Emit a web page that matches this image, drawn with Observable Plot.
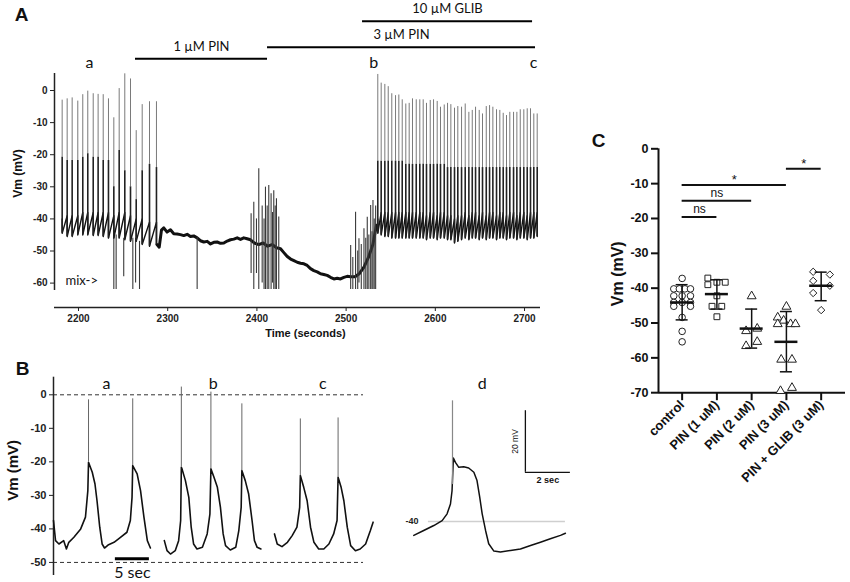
<!DOCTYPE html>
<html><head><meta charset="utf-8">
<script src="https://cdn.jsdelivr.net/npm/d3@7"></script>
<script src="https://cdn.jsdelivr.net/npm/@observablehq/plot@0.6"></script>
<style>
body{margin:0;background:#fff;}
#fig{position:relative;width:850px;height:582px;overflow:hidden;background:#fff;}
</style></head>
<body><div id="fig"></div>
<script>
// ---------------- Panel A data ----------------
const aYTicks = [0, -10, -20, -30, -40, -50, -60];
const aXTicks = [2200, 2300, 2400, 2500, 2600, 2700];
// spikes: time (s), peak, plateau top, foot (mV)
const aSpikeT = [2181.7,2187.3,2192.9,2199.2,2204.8,2210.4,2216.5,2222.0,2227.7,2233.6,2239.6,2245.6,2251.9,2258.3,2264.7,2271.4,2279.6,2287.4,
  2535.5,2539.3,2543.4,2547.2,2551.2,2555.4,2559.1,2562.9,2566.9,2570.7,2574.4,2578.6,2582.6,2586.4,2590.1,2594.3,2598.0,2602.1,2605.8,2610.0,
  2613.7,2617.4,2621.5,2625.2,2629.4,2633.5,2637.6,2641.4,2645.1,2649.2,2652.9,2657.1,2660.8,2664.5,2668.6,2672.3,2676.1,2679.8,2683.5,2687.7,
  2691.4,2695.2,2699.2,2703.0,2706.7,2710.4,2714.2];
const aSpikePeak = [-3.0,-2.6,-2.3,-3.3,-1.3,-0.2,-1.0,-1.2,-1.3,-2.6,-8.5,0.6,5.2,3.6,-12.5,-4.4,-3.5,-3.5,
  5.0,2.3,1.9,1.2,-1.0,-1.6,-1.4,-2.9,-4.2,-4.0,-2.6,-2.9,-2.9,-2.9,-4.0,-3.1,-2.9,-3.4,-5.2,-4.5,
  -4.0,-4.4,-5.5,-5.0,-5.2,-4.2,-6.8,-6.2,-5.2,-6.2,-7.3,-5.0,-4.7,-5.2,-6.0,-6.2,-7.1,-7.8,-6.8,-6.8,
  -6.8,-6.0,-6.0,-5.7,-5.7,-7.3,-7.3];
const aSpikePlateau = [-20.8,-21.8,-21.8,-21.8,-20.8,-19.7,-20.8,-20.8,-21.8,-21.8,-30.0,-18.7,-25.0,-30.0,-34.0,-25.0,-23.0,-24.0,
  -22,-22,-22,-22,-22,-22,-22,-22,-23,-23,-23,-23,-23,-23,-23,-23,-23,-23,-23,-23,
  -24,-24,-24,-24,-24,-24,-24,-24,-24,-24,-24,-24,-24,-24,-24,-24,-24,-24,-24,-24,
  -24,-24,-24,-24,-24,-24,-24];
const aSpikeFoot = [-44.5,-45.5,-45.5,-45.0,-45.0,-45.0,-45.2,-45.2,-45.5,-46.0,-46.0,-46.0,-46.5,-47.0,-47.0,-48.0,-48.5,-48.0,
  -44.5,-45,-45.5,-45.5,-46,-46,-46,-46,-46,-46,-46,-46,-46,-46,-46.5,-46,-46,-46.5,-46,-46,
  -46.5,-46.5,-47.5,-47,-46.5,-46,-46.5,-46,-46,-46.5,-46,-46.5,-46,-46,-46.5,-46,-46,-46.5,-46,-46,
  -46.5,-46,-46,-46.5,-46,-46,-45.5];
// pre-spike ramp level just before each spike (mV)
const aSpikeRamp = [-40,-39,-39,-39,-38,-38,-38,-38,-38,-38,-39,-38,-38,-39,-40,-40,-41,-41,
  -40,-38,-38,-38,-38,-38,-38,-38,-38,-38,-38,-38,-38,-38,-39,-38,-38,-39,-38,-38,
  -39,-39,-40,-39,-39,-38,-39,-38,-38,-39,-38,-39,-38,-38,-39,-38,-38,-39,-38,-38,
  -39,-38,-38,-39,-38,-38,-38];
// bursts / deflections: time, low, high (mV)
const aBurstT  = [2239.6,2242.2,2250.7,2260.9,2264.0,2268.4,2333.0,2393.5,2396.5,2399.5,2402.1,2405.9,2408.0,2409.6,2411.5,2413.3,2415.9,2417.5,2418.9,2420.5,2421.9,2424.5,
  2505.1,2507.5,2510.6,2513.0,2514.4,2517.0,2520.0,2522.0,2523.7,2525.5,2527.5,2529.0,2530.1,2531.5,2533.1];
const aBurstLo = [-62,-62,-58,-62,-60,-62,-62,-57,-62,-57,-62,-60,-62,-62,-62,-62,-62,-60,-62,-62,-62,-62,
  -62,-62,-62,-62,-60,-62,-62,-62,-62,-62,-62,-62,-62,-62,-62];
const aBurstHi = [-45,-45,-46,-46,-46,-47,-45.9,-38.4,-34.8,-40,-24.4,-36,-40,-30.1,-36,-29.6,-32.2,-38,-31.2,-36,-33.7,-39.4,
  -48.3,-52,-37.9,-50,-46.2,-48,-43.1,-46,-39.5,-45,-35.8,-44,-34.3,-40,-36];
// slow (non-spiking) trace
const aTraceT = [2288.0,2290.5,2293.0,2295.6,2299.3,2303.1,2306.8,2310.6,2314.3,2318.0,2321.8,2325.5,2329.2,2333.0,2336.7,2340.5,2344.3,2348.0,2351.7,2355.5,
  2359.2,2362.9,2366.7,2370.4,2374.1,2377.9,2381.6,2385.3,2389.0,2392.8,2397.0,2402.0,2407.0,2412.0,2417.0,2422.0,2426.5,2430.2,2434.0,2437.8,
  2441.5,2445.2,2448.9,2452.7,2456.4,2460.1,2463.8,2467.6,2471.3,2475.0,2478.8,2482.5,2486.3,2490.0,2493.7,2497.5,2501.2,2505.0,2510.0,2515.0,
  2520.0,2525.0,2530.0,2534.0];
const aTraceV = [-48.0,-48.8,-43.5,-42.8,-44.1,-43.4,-44.6,-44.7,-44.9,-45.2,-44.8,-45.5,-45.3,-45.9,-46.8,-47.2,-47.0,-47.8,-47.3,-47.2,
  -47.6,-47.5,-46.9,-46.5,-46.3,-45.9,-46.4,-45.9,-46.2,-46.5,-47.5,-48.0,-47.5,-48.5,-48.0,-49.0,-49.3,-50.5,-51.7,-52.5,
  -53.0,-53.5,-53.8,-54.0,-54.5,-55.5,-56.1,-56.5,-57.1,-57.3,-57.6,-58.2,-58.7,-58.5,-58.7,-58.2,-57.9,-58.0,-58.0,-57.0,
  -55.0,-52.0,-48.0,-42.0];
const drugNames = ["1 µM PIN", "3 µM PIN", "10 µM GLIB"];
const drugStart = [2263.9, 2411.9, 2518.4];
const drugEnd   = [2411.9, 2712.3, 2709.0];
const sampleNames = ["a", "b", "c"];
const sampleT = [2212.3, 2531.0, 2710.1];

// ---------------- Panel B data ----------------
const bYTicks = [0, -10, -20, -30, -40, -50];
const bTraceA_t = [0,0.3,0.8,1.5,1.9,2.25,3.0,4.0,4.7,5.05,5.15,5.7,6.1,6.4,6.8,7.15,7.5,8.1,8.9,9.85,10.8,11.3,11.55,11.65,12.3,12.8,13.3,13.8,14.25];
const bTraceA_v = [-37.5,-43.5,-44.5,-43.5,-46.0,-44,-42.5,-40,-36.5,-28.6,-20.1,-23.1,-26.6,-31.6,-39.5,-44.5,-45.7,-44.7,-44,-42.5,-41,-37.5,-30.6,-21.1,-23.6,-28.6,-36.5,-43.5,-45.7];
const bTraceB_t = [16.3,16.7,17.2,17.9,18.4,18.7,18.8,18.9,19.4,19.9,20.25,20.6,21.1,21.9,22.6,23.0,23.15,23.6,24.1,24.55,24.95,25.3,26.0,26.8,27.25,27.6,27.7,28.2,28.7,29.2,29.55,29.95,30.5];
const bTraceB_v = [-43.5,-46.5,-47.5,-46.5,-43.5,-37.5,-21.6,-22.1,-25.6,-30.6,-39.5,-44.5,-46,-45.5,-41.5,-35.6,-22.1,-24.6,-27.6,-33.6,-41.5,-45,-46.3,-45.5,-40.5,-33.6,-22.6,-25.6,-29.6,-37.5,-43.5,-45.5,-46];
const bTraceC_t = [32.5,32.9,33.6,34.4,35.1,35.8,36.2,36.3,36.8,37.3,37.8,38.3,39.0,39.75,40.5,41.2,41.7,41.85,42.3,42.7,43.2,43.7,44.4,45.1,45.9,46.6,47.0];
const bTraceC_v = [-41.5,-44.5,-45.3,-44,-42,-39.5,-33.6,-24.1,-27.6,-31.6,-39.5,-44,-46,-46,-44.5,-41.5,-37.5,-24.6,-27.6,-31.6,-39.5,-45,-46.5,-46,-44.5,-40.5,-38];
const bSpikeT    = [5.15, 11.65, 18.8, 23.15, 27.7, 36.3, 41.85];
const bSpikeBase = [-20.1, -21.1, -21.6, -22.1, -22.6, -24.1, -24.6];
const bSpikePeak = [-1.5, -1.2, 2.3, 0.8, -2.7, -7.2, -6.9];
const bLabelNames = ["a", "b", "c"];
const bLabelT = [7.8, 23.5, 39.6];
const bScaleSec = 5;
// panel d
const dT = [0,0.44,0.89,1.26,1.48,1.63,1.7,1.76,1.85,2.0,2.22,2.44,2.67,2.81,2.93,3.04,3.19,3.33,3.56,3.85,4.3,4.74,5.19,5.63,6.07,6.52,6.74];
const dV = [-44.5,-42.9,-41.3,-39.7,-37.5,-34.3,-30,-19.4,-20.8,-22.4,-22.2,-22.6,-24,-26.7,-32.1,-37.5,-42.9,-47.2,-49.6,-49.9,-49.4,-48.9,-47.8,-46.7,-45.6,-44.5,-43.8];
const dSpikeT = [1.72], dSpikeBase = [-28], dSpikePeak = [-0.8];
const dRef = -40;
const dScaleMv = 20, dScaleSec = 2;

// ---------------- Panel C data ----------------
const cCats = ["control", "PIN (1 uM)", "PIN (2 uM)", "PIN (3 uM)", "PIN + GLIB (3 uM)"];
const ctrlVals = [-37.2,-40.2,-40.2,-40.2,-40.2,-42.2,-42.2,-42.2,-44.1,-44.1,-44.1,-45.2,-45.2,-48.4,-52.4,-55.4];
const ctrlJit  = [0,-0.24,-0.08,0.08,0.24,-0.24,0,0.24,-0.24,0,0.24,-0.24,0.24,0,0,0];
const pin1Vals = [-37.1,-39.0,-38.3,-38.3,-42.2,-45.2,-45.2,-48.2];
const pin1Jit  = [-0.26,-0.26,0,0.24,0,-0.14,0.14,0];
const pin2Vals = [-42.3,-52.3,-51.6,-55.4,-56.6];
const pin2Jit  = [0,-0.16,0.16,0.16,-0.16];
const pin3Vals = [-45.3,-48.4,-49.3,-50.3,-50.3,-50.3,-60.5,-60.5,-69.5,-68.6];
const pin3Jit  = [0,-0.25,-0.08,-0.25,0.12,0.26,-0.15,0.16,-0.17,0.16];
const glibVals = [-35.3,-36.1,-37.9,-39.3,-41.4,-46.3];
const glibJit  = [-0.23,0.25,-0.23,0.25,-0.23,0];
const cMean = [-44.1, -41.7, -51.6, -55.4, -39.3];
const cSdLo = [-49.1, -46.0, -57.2, -64.0, -43.6];
const cSdHi = [-39.0, -37.6, -46.0, -46.7, -35.4];
const sigFrom = [0, 0, 0, 3], sigTo = [1, 2, 3, 4];
const sigLevel = [-19.6, -14.9, -10.4, -5.75];
const sigLabel = ["ns", "ns", "*", "*"];

// ---------------- assemble ----------------
const fig = document.getElementById("fig");
function place(svg, left, top) {
  Object.assign(svg.style, {position: "absolute", left: left + "px", top: top + "px", background: "transparent", overflow: "visible", maxWidth: "none"});
  fig.appendChild(svg);
}
const ARIAL = "Liberation Sans, Arial, sans-serif";
const CAL = "Lato, sans-serif";

const aSpikes = aSpikeT.map((t, i) => ({t, peak: aSpikePeak[i], plateau: aSpikePlateau[i], foot: aSpikeFoot[i], ramp: aSpikeRamp[i], seg: t < 2400 ? "pre" : "post"}));
// lower sawtooth outline: each spike's ramp top then its foot
const aSaw = aSpikes.flatMap(d => [{t: d.t, v: d.ramp, seg: d.seg}, {t: d.t, v: d.foot, seg: d.seg}]);
const aBursts = aBurstT.map((t, i) => ({t, lo: aBurstLo[i], hi: aBurstHi[i]}));
const aTrace = aTraceT.map((t, i) => ({t, v: aTraceV[i]}));
const drugRowMv = [9.9, 13.5, 21.6];         // layout rows (in mV units above the trace)
const drugs = drugNames.map((name, i) => ({name, start: drugStart[i], end: drugEnd[i], row: drugRowMv[i]}));
const samples = sampleNames.map((name, i) => ({name, t: sampleT[i]}));

const aX = [2173.1, 2717.9], aY = [-67.6, 5.3], aClip = -62.3;
place(Plot.plot({
  width: 580, height: 345, marginLeft: 54, marginRight: 40, marginTop: 73, marginBottom: 38,
  x: {domain: aX}, y: {domain: aY},
  style: {fontFamily: ARIAL, fontSize: "10px", fontWeight: "bold", color: "#222"},
  marks: [
    Plot.axisY({ticks: aYTicks, tickFormat: d => String(d), tickSize: 4, tickPadding: 3, label: null}),
    Plot.ruleX([aX[0]], {y1: aClip, y2: aY[1], strokeWidth: 1.5, stroke: "#222"}),
    Plot.axisX({ticks: aXTicks, tickFormat: d => String(d), tickSize: 4, tickPadding: 3, label: null}),
    Plot.ruleY([aY[0]], {strokeWidth: 1.5, stroke: "#222"}),
    Plot.line(aTrace, {x: "t", y: "v", stroke: "#111", strokeWidth: 3}),
    Plot.ruleX(aBursts, {x: "t", y1: "lo", y2: "hi", stroke: "#3a3a3a", strokeWidth: 1.1}),
    Plot.line(aSaw, {x: "t", y: "v", z: "seg", stroke: "#111", strokeWidth: 1.4}),
    Plot.ruleX(aSpikes, {x: "t", y1: "plateau", y2: "peak", stroke: "#7a7a7a", strokeWidth: 1}),
    Plot.ruleX(aSpikes, {x: "t", y1: "foot", y2: "plateau", stroke: "#222", strokeWidth: 1.6}),
    Plot.ruleY(drugs, {x1: "start", x2: "end", y: "row", stroke: "#000", strokeWidth: 2}),
    Plot.text(drugs, {x: d => (d.start + d.end) / 2, y: "row", text: "name", dy: -12, fontFamily: CAL, fontSize: 13, fontWeight: "normal", fill: "#111"}),
    Plot.text(samples, {x: "t", y: 8.7, text: "name", fontFamily: CAL, fontSize: 16, fontWeight: "normal", fill: "#111"}),
    Plot.text(["mix->"], {x: 2185.4, y: -59.2, textAnchor: "start", fontFamily: CAL, fontSize: 13, fontWeight: "normal", fill: "#111"}),
    Plot.text(["A"], {frameAnchor: "top-left", textAnchor: "middle", lineAnchor: "middle", dx: -33, dy: -59, fontSize: 19, fontWeight: "bold", fill: "#111"}),
    Plot.text(["Vm (mV)"], {frameAnchor: "left", textAnchor: "middle", lineAnchor: "middle", rotate: -90, dx: -36, dy: -17, fontSize: 12, fontWeight: "bold", fill: "#111"}),
    Plot.text(["Time (seconds)"], {frameAnchor: "bottom", textAnchor: "middle", lineAnchor: "middle", dx: 8, dy: 26, fontSize: 11, fontWeight: "bold", fill: "#111"})
  ]
}), 0, 0);

// Panel B (a, b, c)
const bTrace = [
  ...bTraceA_t.map((t, i) => ({t, v: bTraceA_v[i], k: "a"})),
  ...bTraceB_t.map((t, i) => ({t, v: bTraceB_v[i], k: "b"})),
  ...bTraceC_t.map((t, i) => ({t, v: bTraceC_v[i], k: "c"}))
];
const bSpikes = bSpikeT.map((t, i) => ({t, base: bSpikeBase[i], peak: bSpikePeak[i]}));
const bLabels = bLabelNames.map((name, i) => ({name, t: bLabelT[i]}));
const bScaleBar = [{t0: 9.1, t1: 9.1 + bScaleSec, v: -48.9}];
const bX = [0, 47.5], bY = [-53.9, 5.25];
place(Plot.plot({
  width: 380, height: 242, marginLeft: 53, marginRight: 4, marginTop: 36.7, marginBottom: 7,
  x: {domain: bX, axis: null}, y: {domain: bY},
  style: {fontFamily: ARIAL, fontSize: "11px", fontWeight: "bold", color: "#222"},
  marks: [
    Plot.ruleY([0, -50], {stroke: "#333", strokeWidth: 1, strokeDasharray: "4,3", insetRight: 13}),
    Plot.axisY({ticks: bYTicks, tickFormat: d => String(d), tickSize: 4, tickPadding: 3, label: null}),
    Plot.ruleX([bX[0]], {stroke: "#222", strokeWidth: 1.5}),
    Plot.line(bTrace, {x: "t", y: "v", z: "k", stroke: "#111", strokeWidth: 1.6}),
    Plot.ruleX(bSpikes, {x: "t", y1: "base", y2: "peak", stroke: "#666", strokeWidth: 1}),
    Plot.ruleY(bScaleBar, {x1: "t0", x2: "t1", y: "v", stroke: "#000", strokeWidth: 3}),
    Plot.text(bScaleBar, {x: d => (d.t0 + d.t1) / 2, y: "v", text: () => bScaleSec + " sec", dy: 14, fontFamily: CAL, fontSize: 16, fontWeight: "normal", fill: "#111"}),
    Plot.text(bLabels, {x: "t", y: 3.4, text: "name", fontFamily: CAL, fontSize: 16, fontWeight: "normal", fill: "#111"}),
    Plot.text(["B"], {frameAnchor: "top-left", textAnchor: "middle", lineAnchor: "middle", dx: -31, dy: -8, fontSize: 19, fontWeight: "bold", fill: "#111"}),
    Plot.text(["Vm (mV)"], {frameAnchor: "left", textAnchor: "middle", lineAnchor: "middle", rotate: -90, dx: -40, dy: -6, fontSize: 15, fontWeight: "bold", fill: "#111"})
  ]
}), 0, 340);

// Panel B (d)
const dTrace = dT.map((t, i) => ({t, v: dV[i]}));
const dSpikes = dSpikeT.map((t, i) => ({t, base: dSpikeBase[i], peak: dSpikePeak[i]}));
const dBar = {t: 4.96, v: -24};
place(Plot.plot({
  width: 200, height: 242, marginLeft: 0, marginRight: 0, marginTop: 0, marginBottom: 0,
  x: {domain: [-1.48, 7.41], axis: null}, y: {domain: [-59.8, 18.8], axis: null},
  style: {fontFamily: ARIAL, fontSize: "9px", fontWeight: "bold", color: "#222"},
  marks: [
    Plot.ruleY([dRef], {x1: 0.65, x2: 6.74, stroke: "#cfcfcf", strokeWidth: 1.5}),
    Plot.text([dRef], {x: 0.65, y: d => d, text: d => String(d), textAnchor: "end", dx: -10, fontSize: 9, fill: "#222"}),
    Plot.line(dTrace, {x: "t", y: "v", stroke: "#111", strokeWidth: 1.5}),
    Plot.ruleX(dSpikes, {x: "t", y1: "base", y2: "peak", stroke: "#888", strokeWidth: 1.2}),
    Plot.ruleX([dBar], {x: "t", y1: "v", y2: d => d.v + dScaleMv, stroke: "#111", strokeWidth: 1.3}),
    Plot.ruleY([dBar], {x1: "t", x2: d => d.t + dScaleSec, y: "v", stroke: "#111", strokeWidth: 1.3}),
    Plot.text([dBar], {x: "t", y: d => d.v + dScaleMv / 2, text: () => dScaleMv + " mV", rotate: -90, dx: -10, fontSize: 8.5, fontWeight: "normal", fill: "#111"}),
    Plot.text([dBar], {x: d => d.t + dScaleSec / 2, y: "v", text: () => dScaleSec + " sec", dy: 8, fontSize: 9, fill: "#111"}),
    Plot.text(["d"], {x: 3.04, y: 4.8, fontFamily: CAL, fontSize: 16, fontWeight: "normal", fill: "#111"})
  ]
}), 380, 340);

// Panel C
const cGroups = [[ctrlVals, ctrlJit], [pin1Vals, pin1Jit], [pin2Vals, pin2Jit], [pin3Vals, pin3Jit], [glibVals, glibJit]];
const cPoints = cGroups.flatMap(([vals, jit], i) => vals.map((v, k) => ({i, cat: cCats[i], v, j: jit[k]})));
const cStats = cCats.map((cat, i) => ({i, cat, mean: cMean[i], lo: cSdLo[i], hi: cSdHi[i]}));
const sig = sigLabel.map((label, k) => ({label, from: sigFrom[k], to: sigTo[k], level: sigLevel[k]}));
const cX = [-0.68, 4.7];
place(Plot.plot({
  width: 270, height: 462, marginLeft: 78, marginRight: 5, marginTop: 28.3, marginBottom: 189.8,
  x: {domain: cX}, y: {domain: [-70, 0]},
  symbol: {domain: cCats, range: ["circle", "square", "triangle", "triangle", "diamond2"]},
  style: {fontFamily: ARIAL, fontSize: "12.5px", fontWeight: "bold", color: "#111"},
  marks: [
    Plot.axisY({ticks: [0, -10, -20, -30, -40, -50, -60, -70], tickFormat: d => String(d), tickSize: 7, tickPadding: 3, strokeWidth: 2, label: null}),
    Plot.ruleX([cX[0]], {stroke: "#111", strokeWidth: 2}),
    Plot.axisX({ticks: [0, 1, 2, 3, 4], tickFormat: i => cCats[i], tickRotate: -45, tickSize: 8, tickPadding: 2, strokeWidth: 2, fontSize: 13, label: null}),
    Plot.ruleY([-70], {stroke: "#111", strokeWidth: 2}),
    Plot.ruleY(sig, {x1: "from", x2: "to", y: "level", stroke: "#111", strokeWidth: 2}),
    Plot.text(sig.filter(d => d.label === "ns"), {x: d => (d.from + d.to) / 2, y: "level", text: "label", dy: -8, fontSize: 12, fontWeight: "normal", fill: "#111"}),
    Plot.text(sig.filter(d => d.label === "*"), {x: d => (d.from + d.to) / 2, y: "level", text: "label", dy: -5, fontSize: 13, fontWeight: "normal", fill: "#111"}),
    Plot.dot(cPoints, {x: d => d.i + d.j, y: "v", symbol: "cat", r: 3.3, stroke: "#222", fill: "white", strokeWidth: 1}),
    Plot.ruleX(cStats, {x: "i", y1: "lo", y2: "hi", stroke: "#111", strokeWidth: 1.5}),
    Plot.ruleY(cStats, {x1: "i", x2: "i", y: "lo", insetLeft: -6, insetRight: -6, stroke: "#111", strokeWidth: 1.5}),
    Plot.ruleY(cStats, {x1: "i", x2: "i", y: "hi", insetLeft: -6, insetRight: -6, stroke: "#111", strokeWidth: 1.5}),
    Plot.ruleY(cStats, {x1: "i", x2: "i", y: "mean", insetLeft: -11.5, insetRight: -11.5, stroke: "#111", strokeWidth: 2.5}),
    Plot.text(["C"], {frameAnchor: "top-left", textAnchor: "middle", lineAnchor: "middle", dx: -60, dy: -8, fontSize: 19, fontWeight: "bold", fill: "#111"}),
    Plot.text(["Vm (mV)"], {frameAnchor: "left", textAnchor: "middle", lineAnchor: "middle", rotate: -90, dx: -41, dy: 3, fontSize: 16, fontWeight: "bold", fill: "#111"})
  ]
}), 580, 120);
</script>
</body></html>
